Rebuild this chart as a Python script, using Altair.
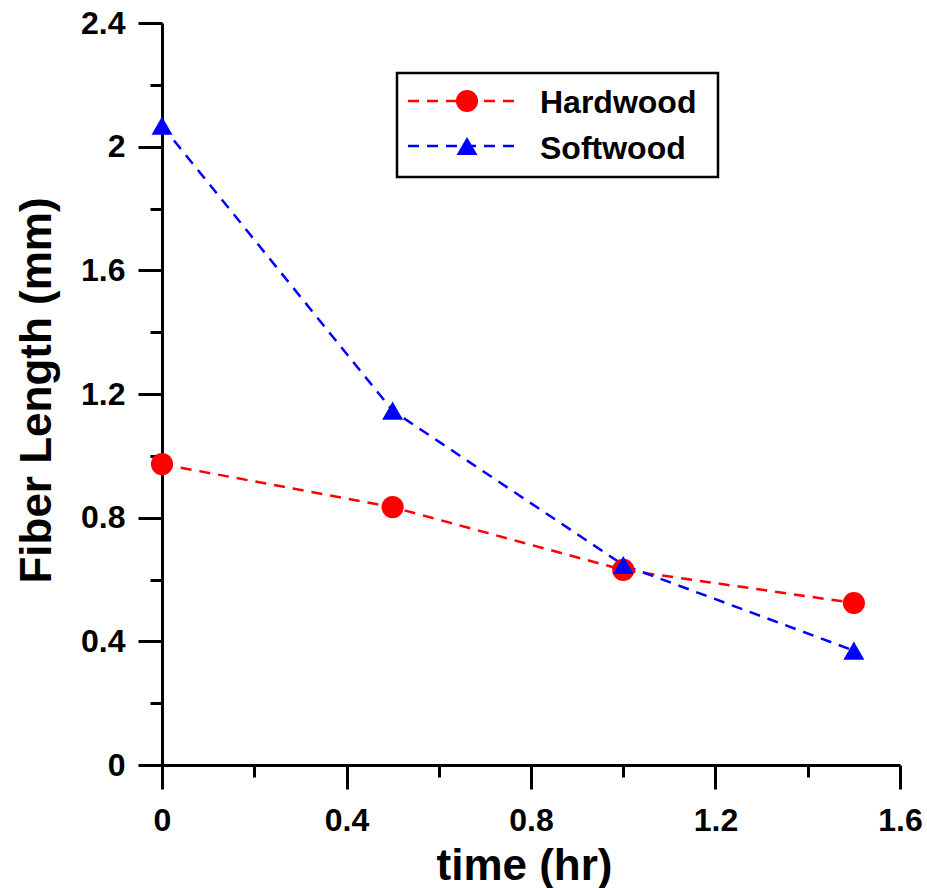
import altair as alt
import pandas as pd

# ---- data ----
time_hr = [0.0, 0.5, 1.0, 1.5]
hardwood = [0.973, 0.834, 0.631, 0.524]
softwood = [2.068, 1.146, 0.647, 0.37]
series_names = ["Hardwood", "Softwood"]
series_colors = ["#ff0000", "#0000ff"]
series_shapes = ["circle", "triangle-up"]
series_sizes = [490, 441]

x_ticks = [0.0, 0.2, 0.4, 0.6, 0.8, 1.0, 1.2, 1.4, 1.6]
y_ticks = [0.0, 0.2, 0.4, 0.6, 0.8, 1.0, 1.2, 1.4, 1.6, 1.8, 2.0, 2.2, 2.4]

rows = []
for name, vals in zip(series_names, [hardwood, softwood]):
    for t, v in zip(time_hr, vals):
        rows.append({"time": t, "length": v, "series": name})
df = pd.DataFrame(rows)

FONT = "Liberation Sans"
W, H = 738, 742

major_test = "abs(round(datum.value * 5)) % 2 == 0"

x_axis = alt.Axis(
    values=x_ticks,
    format="~g",
    labelExpr=f"{major_test.replace('datum.value', 'datum.value')} ? datum.label : ''",
    tickSize={"condition": {"test": major_test, "value": 24}, "value": 12},
    tickWidth=3,
    tickColor="black",
    domainColor="black",
    domainWidth=3,
    grid=False,
    labelFont=FONT,
    labelFontSize=32,
    labelFontWeight="bold",
    labelColor="black",
    labelPadding=16,
    labelFlush=False,
    labelOverlap=False,
    title="time (hr)",
    titleFont=FONT,
    titleFontSize=44,
    titleFontWeight="bold",
    titleColor="black",
    titleX=362,
    titleY=114,
    titleBaseline="alphabetic",
    titleAlign="center",
)

y_axis = alt.Axis(
    values=y_ticks,
    format="~g",
    labelExpr=f"{major_test} ? datum.label : ''",
    tickSize={"condition": {"test": major_test, "value": 24}, "value": 12},
    tickWidth=3,
    tickColor="black",
    domainColor="black",
    domainWidth=3,
    grid=False,
    labelFont=FONT,
    labelFontSize=32,
    labelFontWeight="bold",
    labelColor="black",
    labelPadding=13,
    labelFlush=False,
    labelOverlap=False,
    title="Fiber Length (mm)",
    titleFont=FONT,
    titleFontSize=44,
    titleFontWeight="bold",
    titleColor="black",
    titleAngle=-90,
    titleX=-112,
    titleY=367,
    titleBaseline="alphabetic",
    titleAlign="center",
)

x_enc = alt.X("time:Q", scale=alt.Scale(domain=[0, 1.6], nice=False, zero=False), axis=x_axis)
y_enc = alt.Y("length:Q", scale=alt.Scale(domain=[0, 2.4], nice=False, zero=False), axis=y_axis)
color_enc = alt.Color("series:N", scale=alt.Scale(domain=series_names, range=series_colors), legend=None)

lines = alt.Chart(df).mark_line(strokeWidth=2.5, strokeDash=[11, 8]).encode(
    x=x_enc, y=y_enc, color=color_enc, detail="series:N"
)

points = alt.Chart(df).mark_point(filled=True, opacity=1, strokeWidth=0).encode(
    x=x_enc,
    y=y_enc,
    color=color_enc,
    shape=alt.Shape("series:N", scale=alt.Scale(domain=series_names, range=series_shapes), legend=None),
    size=alt.Size("series:N", scale=alt.Scale(domain=series_names, range=series_sizes), legend=None),
)

# ---- manual legend (guide) ----
box_df = pd.DataFrame({"k": [0]})
legend_box = alt.Chart(box_df).mark_rect(fill="white", stroke="black", strokeWidth=2.5).encode(
    x=alt.value(235), x2=alt.value(556), y=alt.value(50), y2=alt.value(154)
)

legend_layers = [legend_box]
row_y = [78, 123]
text_y = [90, 136]
for i, name in enumerate(series_names):
    ldf = pd.DataFrame({"label": [name]})
    legend_layers.append(
        alt.Chart(ldf).mark_rule(strokeWidth=2.5, strokeDash=[11, 8], color=series_colors[i]).encode(
            x=alt.value(246), x2=alt.value(358), y=alt.value(row_y[i])
        )
    )
    legend_layers.append(
        alt.Chart(ldf).mark_point(
            filled=True, opacity=1, strokeWidth=0, shape=series_shapes[i],
            size=series_sizes[i], color=series_colors[i]
        ).encode(x=alt.value(305), y=alt.value(row_y[i]))
    )
    legend_layers.append(
        alt.Chart(ldf).mark_text(
            align="left", baseline="alphabetic", font=FONT, fontSize=32,
            fontWeight="bold", color="black"
        ).encode(x=alt.value(378), y=alt.value(text_y[i]), text="label:N")
    )

chart = alt.layer(lines, points, *legend_layers).properties(
    width=W,
    height=H,
    autosize=alt.AutoSizeParams(type="none"),
    padding={"left": 162, "top": 23, "right": 27, "bottom": 123},
    background="white",
).configure_view(stroke=None)

chart.save("out.html", embed_options={"renderer": "svg", "actions": False})
